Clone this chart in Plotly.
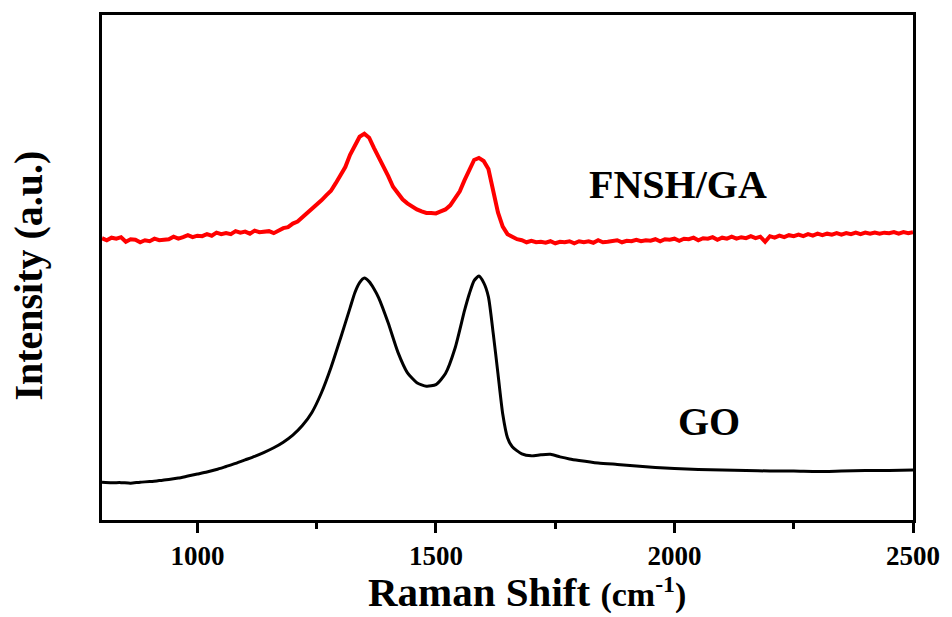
import plotly.graph_objects as go

# Raman spectra: FNSH/GA (offset upper trace) and GO (lower trace)
fnsh_shift = list(range(800, 2501, 10))
fnsh_intensity = [
    558, 554, 559, 557, 560, 551, 556, 555, 550, 554,
    552, 557, 554, 556, 556, 561, 557, 560, 564, 560,
    563, 562, 566, 563, 569, 566, 568, 566, 572, 569,
    571, 567, 573, 570, 572, 572, 568, 573, 578, 580,
    587, 591, 599, 607, 617, 625, 633, 643, 652, 667,
    685, 699, 723, 741, 759, 765, 757, 737, 719, 699,
    681, 660, 647, 635, 627, 620, 615, 611, 608, 608,
    607, 611, 615, 623, 637, 651, 673, 693, 713, 717,
    711, 695, 653, 609, 581, 566, 561, 556, 554, 550,
    553, 550, 551, 549, 552, 548, 551, 550, 552, 548,
    552, 550, 552, 549, 554, 550, 551, 552, 554, 550,
    553, 552, 555, 552, 554, 553, 556, 552, 556, 555,
    557, 553, 557, 556, 559, 554, 558, 557, 560, 555,
    559, 557, 561, 557, 560, 558, 562, 558, 561, 551,
    562, 559, 563, 560, 564, 562, 565, 562, 566, 563,
    567, 564, 567, 565, 568, 565, 568, 566, 569, 566,
    569, 567, 569, 567, 569, 568, 570, 567, 570, 568,
    570,
]

go_shift = [
    800, 820, 840, 860, 880, 900, 920, 940, 960, 980,
    1000, 1020, 1040, 1060, 1080, 1100, 1120, 1140, 1160, 1180,
    1200, 1220, 1240, 1260, 1280, 1300, 1320, 1330, 1340, 1350,
    1360, 1370, 1380, 1400, 1420, 1440, 1460, 1480, 1500, 1520,
    1540, 1560, 1570, 1580, 1590, 1600, 1610, 1620, 1630, 1640,
    1650, 1660, 1680, 1700, 1720, 1740, 1760, 1780, 1800, 1840,
    1880, 1920, 1960, 2000, 2050, 2100, 2150, 2200, 2250, 2300,
    2350, 2400, 2450, 2500,
]
go_intensity = [
    75, 74, 74, 73, 75, 76, 78, 80, 83, 87,
    91, 95, 100, 106, 112, 119, 126, 134, 143, 154,
    168, 187, 213, 252, 302, 360, 420, 450, 470, 479,
    472, 458, 440, 390, 333, 292, 272, 265, 268, 290,
    340, 415, 448, 474, 483, 470, 442, 370, 290, 210,
    163, 145, 131, 127, 129, 130, 125, 121, 118, 113,
    110, 107, 104, 102, 100, 99, 98, 97, 97, 96,
    97, 98, 98, 99,
]

x_ticks = [1000, 1500, 2000, 2500]
sample_labels = ["FNSH/GA", "GO"]

serif = "Liberation Serif, Times New Roman, serif"

fig = go.Figure()
fig.add_trace(go.Scatter(x=fnsh_shift, y=fnsh_intensity, mode="lines",
                         line=dict(color="#ff0000", width=4), name=sample_labels[0]))
fig.add_trace(go.Scatter(x=go_shift, y=go_intensity, mode="lines",
                         line=dict(color="#000000", width=3, shape="spline", smoothing=0.6),
                         name=sample_labels[1]))

fig.add_annotation(x=2007, y=664, text="<b>" + sample_labels[0] + "</b>", showarrow=False,
                   font=dict(family=serif, size=40, color="black"))
fig.add_annotation(x=2072, y=196, text="<b>" + sample_labels[1] + "</b>", showarrow=False,
                   font=dict(family=serif, size=40, color="black"))

fig.add_annotation(xref="paper", yref="paper", x=0.524, y=-0.142,
                   xanchor="center", yanchor="middle",
                   text="<b>Raman Shift <span style='font-size:34px'>(cm<sup>-1</sup>)</span></b>",
                   showarrow=False, font=dict(family=serif, size=41, color="black"))
fig.add_annotation(xref="paper", yref="paper", x=-0.09, y=0.484, textangle=-90,
                   xanchor="center", yanchor="middle",
                   text="<b>Intensity (a.u.)</b>", showarrow=False,
                   font=dict(family=serif, size=40, color="black"))

fig.update_xaxes(range=[800, 2500], tickvals=x_ticks, ticks="outside", ticklen=10,
                 tickwidth=3, tickcolor="black", showline=True, linecolor="black",
                 linewidth=3, mirror=True, showgrid=False, zeroline=False,
                 tickfont=dict(family=serif, size=27, color="black", weight="bold"),
                 minor=dict(tickvals=[1250, 1750, 2250], ticks="outside", ticklen=6,
                            tickwidth=3, tickcolor="black", showgrid=False))
fig.update_yaxes(range=[0, 1000], showticklabels=False, ticks="", showline=True,
                 linecolor="black", linewidth=3, mirror=True, showgrid=False,
                 zeroline=False)

fig.update_layout(width=952, height=617, margin=dict(l=102, r=32, t=14, b=97),
                  plot_bgcolor="white", paper_bgcolor="white", showlegend=False)

fig.write_html("out.html")
